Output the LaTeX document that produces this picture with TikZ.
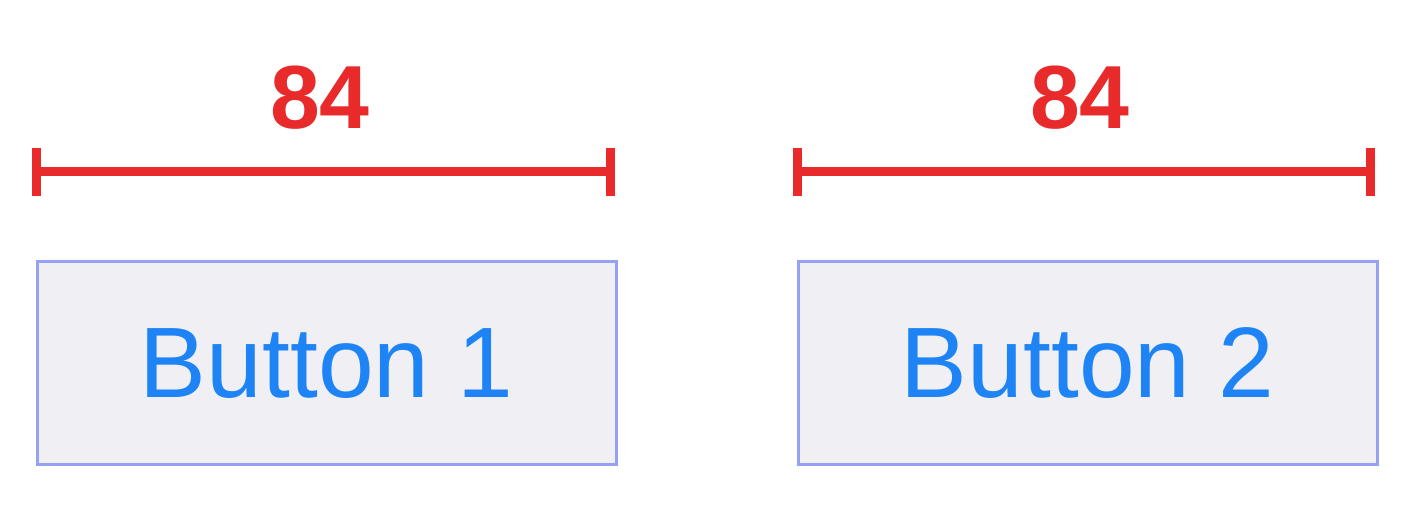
\documentclass[tikz,border=0pt]{standalone}
\usepackage{fontspec}
\setmainfont{Liberation Sans}
\usetikzlibrary{arrows.meta, positioning}
\definecolor{dimred}{RGB}{232,42,42}
\definecolor{btnfill}{RGB}{239,239,244}
\definecolor{btnborder}{RGB}{150,160,245}
\definecolor{btntext}{RGB}{30,132,245}
\tikzstyle{button} = [draw=btnborder, fill=btnfill, line width=0.03cm, minimum width=5.79cm, minimum height=2.03cm, text=btntext, font=\fontsize{28.5}{34}\selectfont]
\tikzstyle{dimline} = [draw=dimred, line width=0.09cm]
\tikzstyle{dimlabel} = [text=dimred, font=\fontsize{25.5}{30}\selectfont\bfseries, anchor=base]

\begin{document}
\begin{tikzpicture}
  \useasboundingbox (0,0) rectangle (14.16,5.18);
  % Nodes
  \node (btnA) [button] at (3.265,1.545) {Button 1};
  \node (btnB) [button, right=1.79cm of btnA] {Button 2};

  % Dimension lines
  \coordinate (dimA1) at (0.365,3.46);
  \coordinate (dimA2) at (6.105,3.46);
  \coordinate (dimB1) at (7.97,3.46);
  \coordinate (dimB2) at (13.705,3.46);
  \draw[dimline] (dimA1) -- (dimA2);
  \draw[dimline] (dimB1) -- (dimB2);
  \foreach \c in {dimA1,dimA2,dimB1,dimB2}
    \draw[dimline] ([yshift=0.24cm]\c) -- ([yshift=-0.24cm]\c);
  \node (lblA) [dimlabel] at (3.20,3.89) {84};
  \node (lblB) [dimlabel] at (10.80,3.89) {84};
\end{tikzpicture}
\end{document}
